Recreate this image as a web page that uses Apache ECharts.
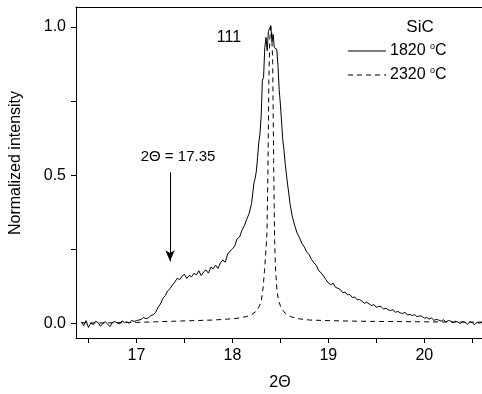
<!DOCTYPE html>
<html>
<head>
<meta charset="utf-8">
<script src="https://cdn.jsdelivr.net/npm/echarts@6/dist/echarts.min.js"></script>
<style>html,body{margin:0;padding:0;background:#fff}#c{width:482px;height:394px}</style>
</head>
<body>
<div id="c"></div>
<script>
// 1820 °C (solid)
var solidX = [16.425,16.45,16.475,16.5,16.525,16.55,16.575,16.6,16.625,16.65,16.675,16.7,16.725,16.75,16.775,16.8,16.825,16.85,16.875,16.9,16.925,16.95,16.975,17.0,
17.025,17.05,17.075,17.1,17.125,17.15,17.175,17.2,17.225,17.25,17.275,17.3,17.325,17.35,17.375,17.4,17.425,17.45,17.475,17.5,17.525,17.55,17.575,17.6,17.625,17.65,17.675,17.7,17.725,17.75,17.775,17.8,17.825,17.85,17.875,17.9,17.925,17.95,17.975,18.0,
18.025,18.05,18.075,18.1,18.125,18.15,18.175,18.2,18.2125,18.225,18.2375,18.25,18.2625,18.275,18.2875,18.3,18.3125,18.325,18.3375,18.35,18.3625,18.375,18.3875,18.4,18.4125,18.425,18.4375,18.45,18.4625,18.475,18.4875,18.5,18.5125,18.525,18.5375,18.55,18.5625,18.575,18.5875,18.6,
18.625,18.65,18.675,18.7,18.725,18.75,18.775,18.8,18.825,18.85,18.875,18.9,18.925,18.95,18.975,19.0,19.025,19.05,19.075,19.1,19.125,19.15,19.175,19.2,19.225,19.25,19.275,19.3,19.325,19.35,19.375,19.4,19.425,19.45,19.475,19.5,19.525,19.55,19.575,19.6,19.625,19.65,19.675,19.7,19.725,19.75,19.775,19.8,19.825,19.85,19.875,19.9,19.925,19.95,19.975,20.0,
20.025,20.05,20.075,20.1,20.125,20.15,20.175,20.2,20.225,20.25,20.275,20.3,20.325,20.35,20.375,20.4,20.425,20.45,20.475,20.5,20.525,20.55,20.575,20.6,20.625];
var solidY = [0.006,-0.007,0.010,-0.013,0.002,-0.004,0.008,0.003,-0.009,0.001,0.006,-0.002,-0.010,0.004,0.007,0.002,-0.001,0.009,0.004,0.006,0.001,0.011,0.007,0.010,
0.012,0.014,0.021,0.016,0.020,0.027,0.030,0.038,0.055,0.066,0.085,0.094,0.110,0.118,0.130,0.140,0.153,0.148,0.160,0.166,0.152,0.162,0.158,0.170,0.164,0.178,0.162,0.174,0.181,0.170,0.190,0.185,0.197,0.186,0.205,0.214,0.207,0.234,0.244,0.252,
0.262,0.286,0.292,0.315,0.330,0.352,0.372,0.405,0.440,0.475,0.490,0.515,0.560,0.610,0.640,0.700,0.820,0.830,0.930,0.965,0.920,0.985,0.995,1.005,0.950,0.975,0.930,0.935,0.925,0.870,0.790,0.740,0.680,0.620,0.585,0.540,0.505,0.470,0.440,0.405,
0.360,0.330,0.305,0.289,0.270,0.258,0.241,0.232,0.216,0.205,0.196,0.178,0.171,0.160,0.148,0.137,0.131,0.136,0.122,0.119,0.115,0.104,0.106,0.097,0.098,0.088,0.090,0.080,0.081,0.076,0.068,0.072,0.066,0.061,0.064,0.055,0.058,0.057,0.049,0.052,0.046,0.044,0.047,0.038,0.041,0.036,0.034,0.038,0.029,0.031,0.027,0.030,0.023,0.026,0.025,0.018,
0.021,0.015,0.019,0.011,0.014,0.012,0.008,0.013,0.006,0.010,0.009,0.003,0.008,0.005,0.000,0.007,0.004,-0.002,0.006,0.003,-0.004,0.005,0.001,0.004,0.002];

// 2320 °C (dashed)
var dashX = [16.425,16.6,16.8,17.0,17.2,17.4,17.6,17.8,17.95,18.05,18.15,18.2,18.25,18.28,18.3,18.32,18.335,18.35,18.36,18.37,18.38,18.39,18.4,18.41,18.42,18.43,18.44,18.45,18.465,18.48,18.5,18.53,18.57,18.62,18.7,18.8,19.0,19.3,19.6,20.0,20.3,20.625];
var dashY = [0.003,0.002,0.003,0.004,0.006,0.008,0.010,0.012,0.015,0.018,0.024,0.030,0.042,0.058,0.075,0.120,0.180,0.250,0.300,0.500,0.820,0.960,1.000,0.980,0.880,0.550,0.280,0.180,0.110,0.080,0.060,0.042,0.030,0.022,0.016,0.012,0.010,0.008,0.007,0.006,0.005,0.005];

var xTicks = [16.5,17,17.5,18,18.5,19,19.5,20,20.5];
var xLabels = [17,18,19,20];
var yTicks = [0,0.25,0.5,0.75,1.0];
var yLabels = [0,0.5,1.0];

var arrowX = 17.35, arrowTop = 0.51, arrowTip = 0.21;

function zip(a, b) { return a.map(function (v, i) { return [v, b[i]]; }); }

var font = 'Liberation Sans, Arial, sans-serif';
var chart = echarts.init(document.getElementById('c'), null, {renderer: 'canvas'});
chart.setOption({
  animation: false,
  backgroundColor: '#fff',
  grid: {left: 76, top: 7, bottom: 56, right: -20, containLabel: false, outerBoundsMode: 'none'},
  xAxis: [{
    type: 'value', min: 16.37, max: 20.81, position: 'bottom',
    axisLine: {show: true, onZero: false, lineStyle: {color: '#000', width: 1}},
    axisTick: {show: true, inside: false, length: 5, customValues: xTicks, lineStyle: {color: '#000'}},
    axisLabel: {show: true, customValues: xLabels, margin: 10, color: '#000', fontSize: 16, fontFamily: font,
      formatter: function (v) { return String(Math.round(v)); }},
    splitLine: {show: false}
  }, {
    type: 'value', min: 16.37, max: 20.81, position: 'top',
    axisLine: {show: true, onZero: false, lineStyle: {color: '#000', width: 1}},
    axisTick: {show: false}, axisLabel: {show: false}, splitLine: {show: false}
  }],
  yAxis: {
    type: 'value', min: -0.0486, max: 1.0674,
    axisLine: {show: true, onZero: false, lineStyle: {color: '#000', width: 1}},
    axisTick: {show: true, inside: false, length: 5, customValues: yTicks, lineStyle: {color: '#000'}},
    axisLabel: {show: true, customValues: yLabels, margin: 10, color: '#000', fontSize: 16, fontFamily: font,
      formatter: function (v) { return v.toFixed(1); }},
    splitLine: {show: false}
  },
  series: [{
    type: 'line', name: '1820 °C', xAxisIndex: 0, data: zip(solidX, solidY),
    showSymbol: false, symbol: 'none', lineStyle: {color: '#000', width: 1}, clip: true,
    markLine: {
      silent: true, symbol: ['none', 'arrow'], symbolSize: [7, 11],
      lineStyle: {color: '#000', width: 1, type: 'solid'}, label: {show: false},
      data: [[{coord: [arrowX, arrowTop]}, {coord: [arrowX, arrowTip]}]]
    }
  }, {
    type: 'line', name: '2320 °C', xAxisIndex: 0, data: zip(dashX, dashY),
    showSymbol: false, symbol: 'none', lineStyle: {color: '#000', width: 1, type: [5, 4]}, clip: true
  }],
  graphic: [
    {type: 'text', x: 16, y: 163, rotation: Math.PI / 2, style: {text: 'Normalized intensity', fill: '#000', font: '16px ' + font, align: 'center', verticalAlign: 'middle'}},
    {type: 'text', x: 280, y: 383, style: {text: '2Θ', fill: '#000', font: '16px ' + font, align: 'center', verticalAlign: 'middle'}},
    {type: 'text', x: 229, y: 38, style: {text: '111', fill: '#000', font: '16px ' + font, align: 'center', verticalAlign: 'middle'}},
    {type: 'text', x: 178, y: 157, style: {text: '2Θ = 17.35', fill: '#000', font: '15px ' + font, align: 'center', verticalAlign: 'middle'}},
    {type: 'text', x: 420, y: 27, style: {text: 'SiC', fill: '#000', font: '17px ' + font, align: 'center', verticalAlign: 'middle'}},
    {type: 'line', shape: {x1: 348, y1: 51, x2: 386, y2: 51}, style: {stroke: '#000', lineWidth: 1}},
    {type: 'line', shape: {x1: 348, y1: 75, x2: 386, y2: 75}, style: {stroke: '#000', lineWidth: 1, lineDash: [5, 4]}},
    {type: 'text', x: 390, y: 51, style: {text: '{n|1820 }{s|o}{n|C}', verticalAlign: 'middle', align: 'left',
      rich: {n: {fontSize: 16, fontFamily: font, fill: '#000', color: '#000'}, s: {fontSize: 9, fontFamily: font, fill: '#000', color: '#000', verticalAlign: 'top', padding: [0, 0, 8, 0]}}}},
    {type: 'text', x: 390, y: 75, style: {text: '{n|2320 }{s|o}{n|C}', verticalAlign: 'middle', align: 'left',
      rich: {n: {fontSize: 16, fontFamily: font, fill: '#000', color: '#000'}, s: {fontSize: 9, fontFamily: font, fill: '#000', color: '#000', verticalAlign: 'top', padding: [0, 0, 8, 0]}}}}
  ]
});
</script>
</body>
</html>
